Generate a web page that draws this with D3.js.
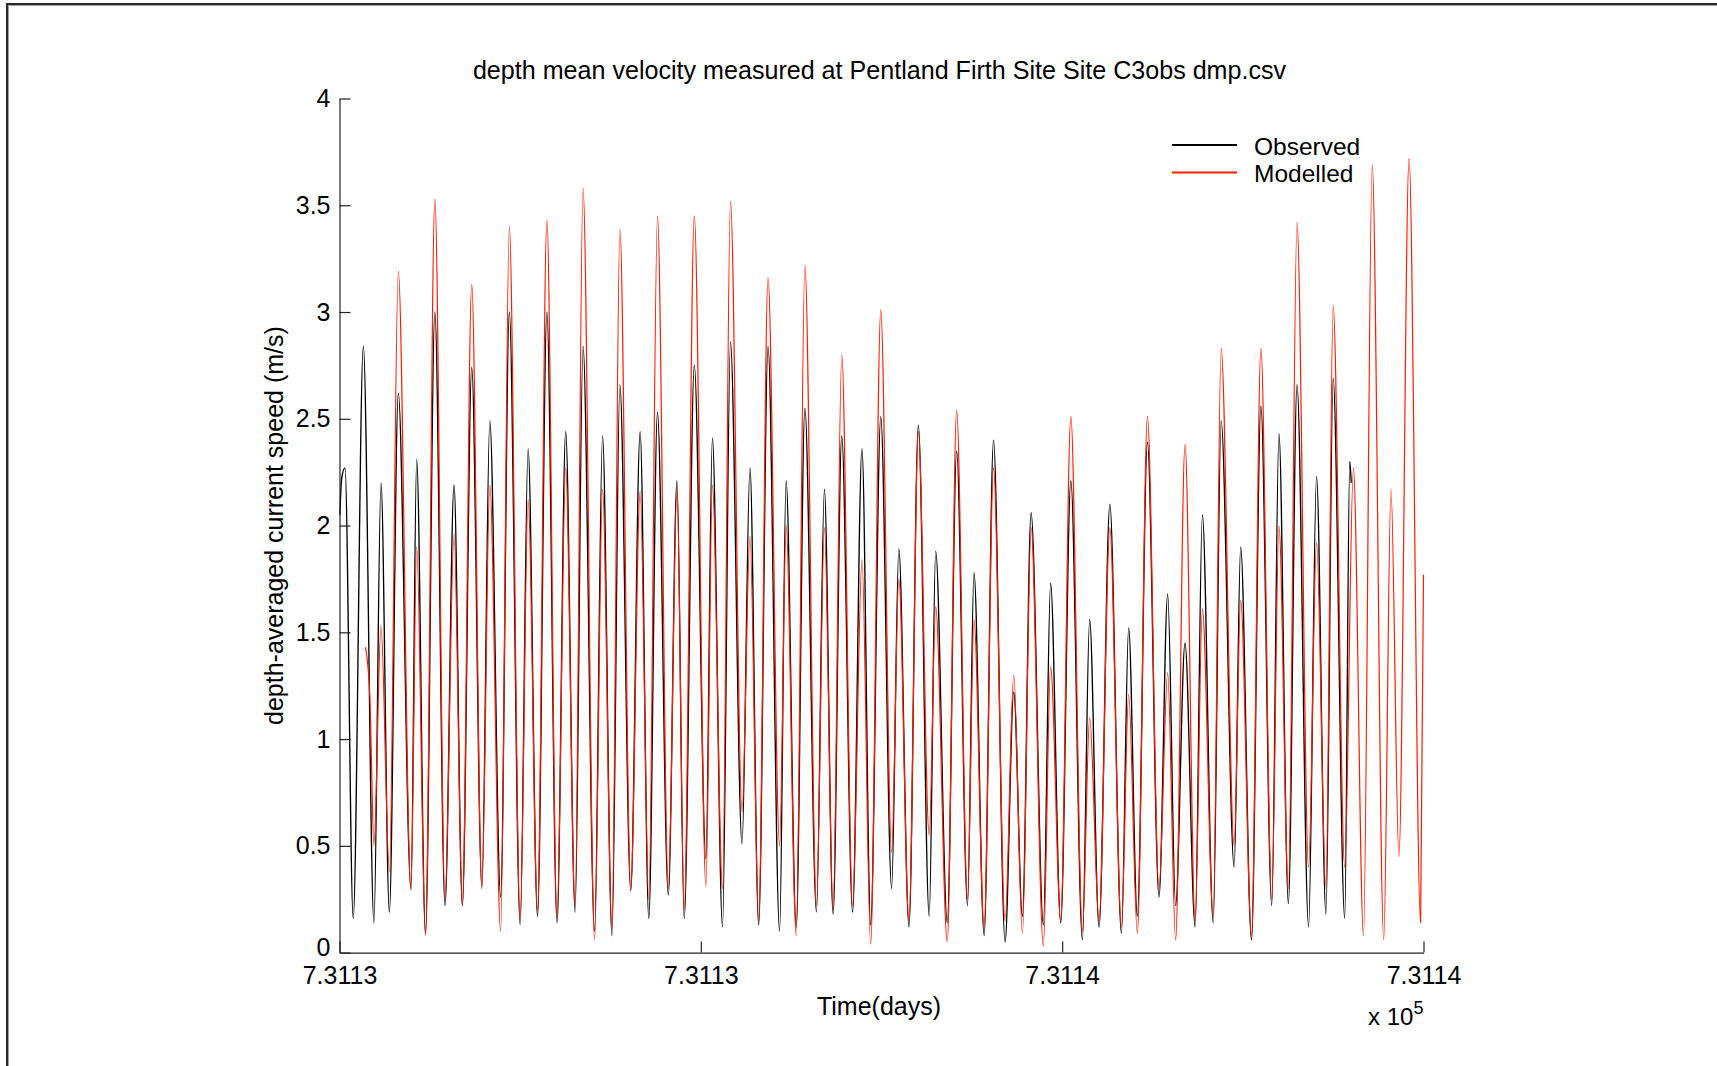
<!DOCTYPE html>
<html>
<head>
<meta charset="utf-8">
<script src="https://cdn.jsdelivr.net/npm/d3@7"></script>
<style>
  html, body { margin: 0; padding: 0; background: #fff; }
  svg { display: block; }
  text { font-family: "Liberation Sans", Arial, sans-serif; fill: #000; }
</style>
</head>
<body>
<svg id="chart" width="1717" height="1066"></svg>
<script>
// ---------------- data ----------------
const titleText = "depth mean velocity measured at Pentland Firth Site Site C3obs dmp.csv";
const xLabelText = "Time(days)";
const yLabelText = "depth-averaged current speed (m/s)";
const seriesNames = ["Observed", "Modelled"];

const timeOrigin = 731130;           // days (MATLAB datenum)
const xDomain = [731130, 731145];
const xTickValues = [731130, 731135, 731140, 731145];
const xTickLabels = ["7.3113", "7.3113", "7.3114", "7.3114"];
const yTickValues = [0, 0.5, 1, 1.5, 2, 2.5, 3, 3.5, 4];

// Observed: turning points, [day offset from timeOrigin, speed m/s]
const observedDays = [0.005,0.03,0.076,0.19,0.33,0.477,0.574,0.69,0.814,0.989,1.068,1.19,1.32,1.46,1.585,1.70,1.83,1.97,2.08,2.23,2.35,2.50,2.61,2.74,2.87,3.01,3.13,3.26,3.37,3.53,3.64,3.77,3.88,4.03,4.16,4.28,4.40,4.55,4.67,4.77,4.91,5.07,5.16,5.30,5.41,5.57,5.68,5.80,5.93,6.09,6.18,6.32,6.44,6.60,6.71,6.83,6.95,7.10,7.23,7.35,7.49,7.64,7.74,7.88,8.01,8.16,8.25,8.41,8.54,8.69,8.78,8.92,9.05,9.21,9.33,9.45,9.57,9.74,9.84,9.98,10.12,10.28,10.38,10.51,10.66,10.82,10.92,11.04,11.18,11.34,11.46,11.57,11.70,11.84,11.94,12.09,12.20,12.38,12.47,12.62,12.75,12.90,13.00,13.13,13.25,13.41,13.52,13.65,13.75,13.91,13.98,14.0];
const observedSpeed = [2.05,2.22,2.27,0.16,2.84,0.14,2.2,0.19,2.62,0.3,2.31,0.09,3.0,0.22,2.19,0.22,2.74,0.31,2.49,0.26,3.0,0.13,2.36,0.17,3.0,0.14,2.44,0.19,2.84,0.1,2.42,0.08,2.66,0.29,2.44,0.16,2.53,0.27,2.21,0.16,2.75,0.44,2.41,0.12,2.86,0.51,2.27,0.13,2.84,0.1,2.21,0.12,2.55,0.19,2.17,0.18,2.42,0.19,2.36,0.13,2.51,0.3,1.89,0.12,2.47,0.17,1.88,0.14,2.35,0.22,1.78,0.08,2.4,0.05,1.22,0.17,2.06,0.13,1.73,0.14,2.21,0.06,1.56,0.12,2.1,0.09,1.52,0.17,2.39,0.26,1.68,0.22,1.45,0.12,2.05,0.14,2.49,0.4,1.9,0.06,2.56,0.22,2.43,0.23,2.66,0.12,2.23,0.18,2.69,0.16,2.3,2.2];

// Modelled: turning points
const modelledDays = [0.36,0.42,0.477,0.574,0.69,0.814,0.989,1.068,1.19,1.32,1.46,1.585,1.70,1.83,1.97,2.08,2.23,2.35,2.50,2.61,2.74,2.87,3.01,3.13,3.26,3.37,3.53,3.64,3.77,3.88,4.03,4.16,4.28,4.40,4.55,4.67,4.77,4.91,5.07,5.16,5.30,5.41,5.57,5.68,5.80,5.93,6.09,6.18,6.32,6.44,6.60,6.71,6.83,6.95,7.10,7.23,7.35,7.49,7.64,7.74,7.88,8.01,8.16,8.25,8.41,8.54,8.69,8.78,8.92,9.05,9.21,9.33,9.45,9.57,9.74,9.84,9.98,10.12,10.28,10.38,10.51,10.66,10.82,10.92,11.04,11.18,11.34,11.46,11.57,11.70,11.84,11.94,12.09,12.20,12.38,12.47,12.62,12.75,12.90,13.00,13.13,13.25,13.41,13.52,13.65,13.75,13.91,14.03,14.17,14.29,14.45,14.55,14.66,14.80,14.96,15.0];
const modelledSpeed = [1.43,1.2,0.5,1.53,0.38,3.19,0.29,1.9,0.08,3.53,0.25,1.96,0.22,3.13,0.3,2.19,0.1,3.4,0.15,2.12,0.2,3.43,0.16,2.27,0.22,3.58,0.06,2.17,0.12,3.39,0.3,2.16,0.25,3.45,0.3,2.17,0.2,3.45,0.31,2.19,0.3,3.52,0.66,1.95,0.15,3.16,0.5,2.0,0.08,3.22,0.22,1.99,0.2,2.8,0.22,1.84,0.04,3.01,0.47,1.75,0.15,2.44,0.55,1.62,0.05,2.54,0.25,1.56,0.12,2.27,0.15,1.3,0.09,1.99,0.03,1.34,0.15,2.51,0.1,1.1,0.15,1.99,0.12,1.21,0.09,2.51,0.3,1.31,0.06,2.38,0.15,1.61,0.17,2.83,0.5,1.65,0.08,2.83,0.25,2.0,0.3,3.42,0.4,1.92,0.3,3.03,0.4,2.27,0.08,3.69,0.06,2.17,0.45,3.72,0.14,1.77];

// ---------------- drawing ----------------
const W = 1717, H = 1066;
const plot = { left: 339.5, right: 1423.5, top: 98.5, bottom: 952.6 };
const fs = 25;
const obsColor = "#000000";
const modColor = "#ff1a00";

const svg = d3.select("#chart");

// figure frame (top and left edges)
svg.append("line").attr("x1", 6).attr("y1", 4).attr("x2", W).attr("y2", 4)
  .attr("stroke", "#2a2a2a").attr("stroke-width", 2);
svg.append("line").attr("x1", 7).attr("y1", 3).attr("x2", 7).attr("y2", H)
  .attr("stroke", "#2a2a2a").attr("stroke-width", 2);
svg.append("line").attr("x1", 8.5).attr("y1", 5.5).attr("x2", W).attr("y2", 5.5)
  .attr("stroke", "#a0a0a0").attr("stroke-width", 1);
svg.append("line").attr("x1", 8.5).attr("y1", 5.5).attr("x2", 8.5).attr("y2", H)
  .attr("stroke", "#a0a0a0").attr("stroke-width", 1);

const x = d3.scaleLinear().domain(xDomain).range([plot.left, plot.right]);
const y = d3.scaleLinear().domain([0, 4]).range([plot.bottom, plot.top]);

const obsData = observedDays.map((d, i) => [timeOrigin + d, observedSpeed[i]]);
const modData = modelledDays.map((d, i) => [timeOrigin + d, modelledSpeed[i]]);

const line = d3.line().x(d => x(d[0])).y(d => y(d[1])).curve(d3.curveMonotoneX);

svg.append("path").datum(obsData).attr("d", line)
  .attr("fill", "none").attr("stroke", obsColor).attr("stroke-width", 1.35);
svg.append("path").datum(modData).attr("d", line)
  .attr("fill", "none").attr("stroke", modColor).attr("stroke-width", 1.2);

// axes
const yAxis = d3.axisLeft(y).tickValues(yTickValues).tickSize(-11).tickSizeOuter(0).tickPadding(9)
  .tickFormat(d3.format("~g"));
const gy = svg.append("g").attr("transform", `translate(${plot.left},0)`).call(yAxis);

const xAxis = d3.axisBottom(x).tickValues(xTickValues).tickSize(-11).tickSizeOuter(0).tickPadding(13.6)
  .tickFormat((d, i) => xTickLabels[i]);
const gx = svg.append("g").attr("transform", `translate(0,${plot.bottom})`).call(xAxis);

[gx, gy].forEach(g => {
  g.select(".domain").attr("stroke", "#222").attr("stroke-width", 1.2);
  g.selectAll(".tick line").attr("stroke", "#222").attr("stroke-width", 1.2);
  g.selectAll(".tick text").attr("font-family", "'Liberation Sans', Arial, sans-serif")
    .attr("font-size", fs).attr("fill", "#000");
});
// lift the "0" label slightly so it clears the first x tick label
gy.selectAll(".tick text").filter(d => d === 0).attr("dy", "0.12em");

// title
svg.append("text").attr("x", (plot.left + plot.right) / 2 - 2).attr("y", 79)
  .attr("text-anchor", "middle").attr("font-size", 25.1).text(titleText);

// x label
svg.append("text").attr("x", 879).attr("y", 1015)
  .attr("text-anchor", "middle").attr("font-size", fs).text(xLabelText);

// exponent
const expo = svg.append("text").attr("x", 1368).attr("y", 1025).attr("font-size", 24);
expo.append("tspan").text("x 10");
expo.append("tspan").attr("font-size", 18).attr("dy", -11).text("5");

// y label
svg.append("text").attr("transform", "translate(274,525.6) rotate(-90)")
  .attr("text-anchor", "middle").attr("dy", "0.35em").attr("font-size", fs).text(yLabelText);

// legend
const legend = svg.append("g");
const legendRows = [
  { name: seriesNames[0], color: obsColor, yy: 145 },
  { name: seriesNames[1], color: modColor, yy: 172.5 }
];
legendRows.forEach(r => {
  legend.append("line").attr("x1", 1172).attr("x2", 1237).attr("y1", r.yy).attr("y2", r.yy)
    .attr("stroke", r.color).attr("stroke-width", 2);
  legend.append("text").attr("x", 1254).attr("y", r.yy + 1).attr("dy", "0.35em")
    .attr("font-size", 24.5).text(r.name);
});
</script>
</body>
</html>
